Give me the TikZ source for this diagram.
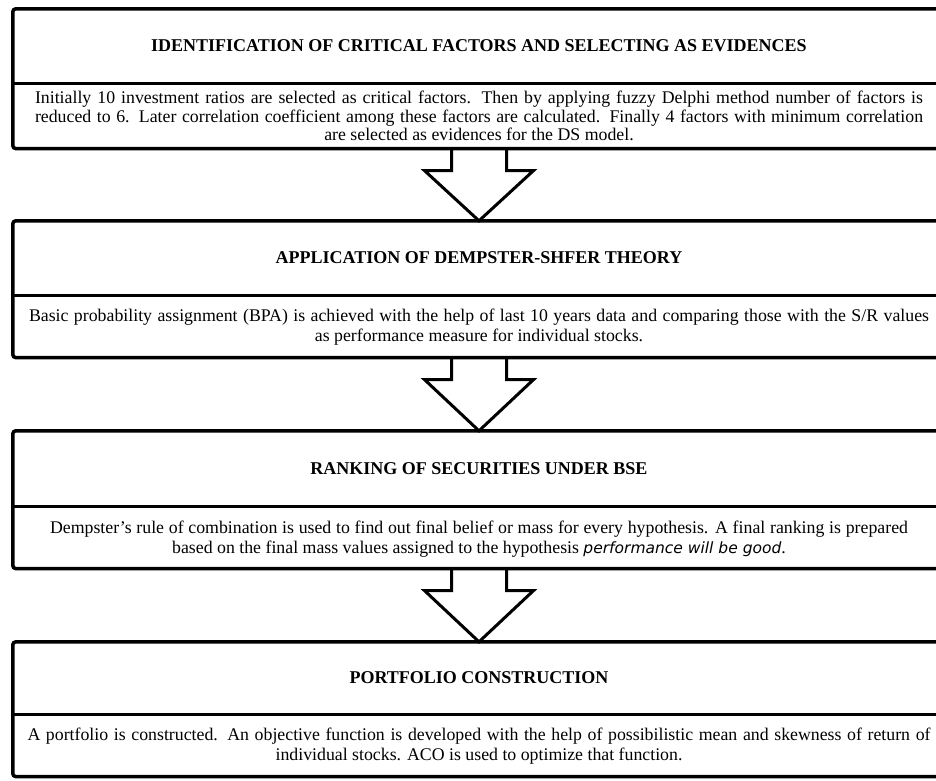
\documentclass[tikz,border=0pt]{standalone}
\usepackage{fontspec}
\setmainfont{Liberation Serif}
\newfontfamily\vsans{DejaVu Sans}
\usetikzlibrary{calc}
\tikzset{
  boxline/.style={line width=3.5pt, rounded corners=3pt},
  divline/.style={line width=3pt},
  hdr/.style={minimum width=932pt, minimum height=74pt, inner sep=0pt,
    font=\bfseries\fontsize{18}{20}\selectfont, align=center},
  bdy/.style={minimum width=932pt, minimum height=63pt, inner sep=0pt, anchor=north,
    font=\fontsize{17.8}{18.5}\selectfont, align=center},
  bdytwo/.style={bdy, font=\fontsize{17.8}{20}\selectfont, yshift=-2pt},
  blockarrow/.style={line width=3pt, fill=white, line join=miter}
}
\begin{document}
\begin{tikzpicture}[x=1pt,y=1pt]
\useasboundingbox (0,0) rectangle (936,-780);
% box 1
\node[hdr] (h1) at (479,-46) {IDENTIFICATION OF CRITICAL FACTORS AND SELECTING AS EVIDENCES};
\node[bdy, minimum height=65pt] (t1) at (h1.south) {%
\makebox[888pt][s]{Initially 10 investment ratios are selected as critical factors. Then by applying fuzzy Delphi method number of factors is}\\
\makebox[888pt][s]{reduced to 6. Later correlation coefficient among these factors are calculated. Finally 4 factors with minimum correlation}\\
are selected as evidences for the DS model.};
% box 2
\node[hdr] (h2) at (479,-258) {APPLICATION OF DEMPSTER-SHFER THEORY};
\node[bdytwo, minimum height=60pt] (t2) at (h2.south) {%
\makebox[900pt][s]{Basic probability assignment (BPA) is achieved with the help of last 10 years data and comparing those with the S/R values}\\
as performance measure for individual stocks.};
% box 3
\node[hdr, minimum height=75pt] (h3) at (479,-468.5) {RANKING OF SECURITIES UNDER BSE};
\node[bdytwo, minimum height=58pt, yshift=-2pt] (t3) at (h3.south) {%
\makebox[858pt][s]{Dempster's rule of combination is used to find out final belief or mass for every hypothesis. A final ranking is prepared}\\
based on the final mass values assigned to the hypothesis {\vsans\itshape\fontsize{15.5}{18.5}\selectfont performance will be good}.};
% box 4
\node[hdr, minimum height=72pt] (h4) at (479,-678) {PORTFOLIO CONSTRUCTION};
\node[bdytwo, minimum height=60pt] (t4) at (h4.south) {%
\makebox[903pt][s]{A portfolio is constructed. An objective function is developed with the help of possibilistic mean and skewness of return of}\\
individual stocks. ACO is used to optimize that function.};
% arrows
\foreach \a/\b in {t1/h2, t2/h3, t3/h4}{
  \draw[blockarrow] ($(\a.south)+(-27.5,0)$) -- ++(0,-22) -- ++(-27,0) -- (\b.north)
    -- ($(\a.south)+(54.5,-22)$) -- ++(-27,0) -- ++(0,22);
}
% borders
\foreach \h/\t in {h1/t1, h2/t2, h3/t3, h4/t4}{
  \draw[boxline] (\h.north west) rectangle (\h.south east |- \t.south);
  \draw[divline] (\h.south west) -- (\h.south east);
}
\end{tikzpicture}
\end{document}
